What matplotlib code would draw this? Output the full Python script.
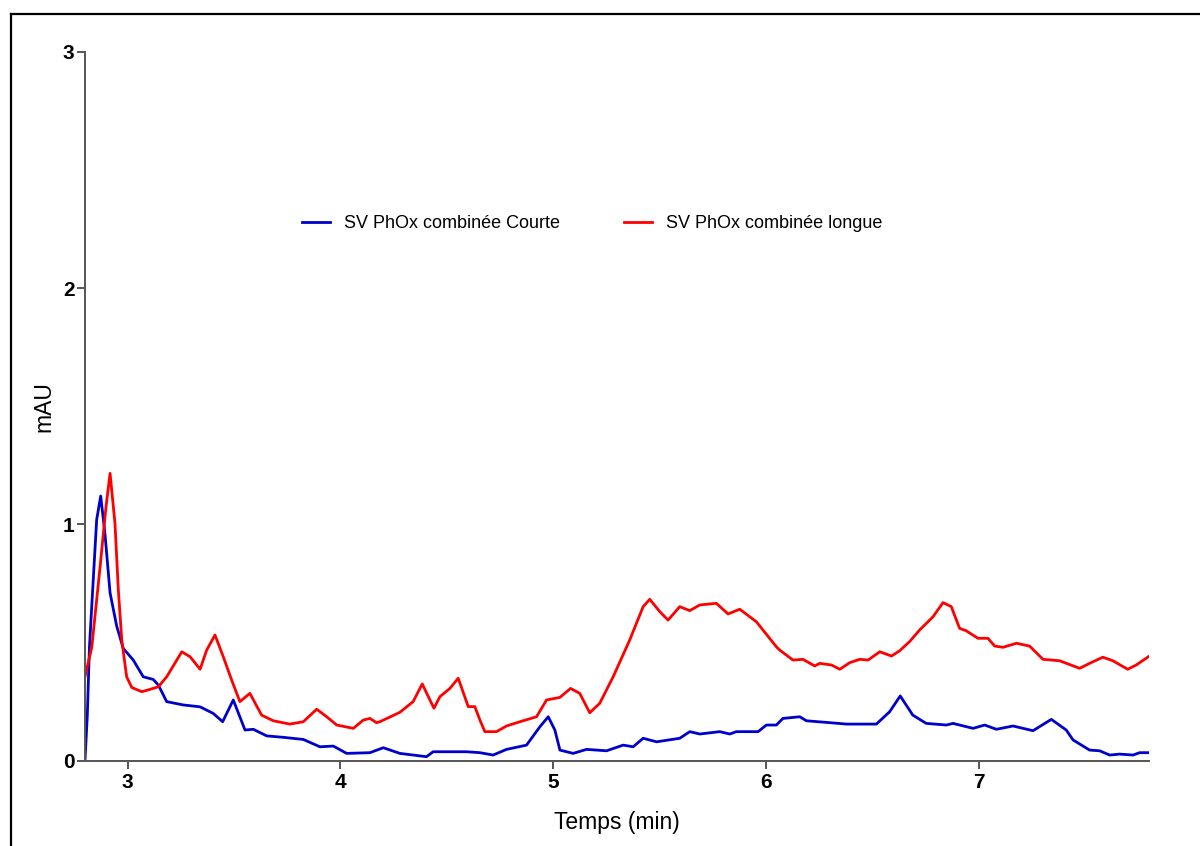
import matplotlib
matplotlib.use("Agg")
import matplotlib.pyplot as plt
from matplotlib.lines import Line2D

plt.rcParams['font.family'] = ['Liberation Sans', 'DejaVu Sans']

# Series: "SV PhOx combinée Courte" (blue)
t_courte = [2.800, 2.811, 2.821, 2.855, 2.874, 2.894, 2.918, 2.949, 2.980, 3.027,
            3.074, 3.121, 3.145, 3.184, 3.262, 3.341, 3.403, 3.447, 3.497, 3.552,
            3.591, 3.654, 3.732, 3.826, 3.904, 3.967, 4.030, 4.139, 4.202, 4.280,
            4.405, 4.436, 4.593, 4.656, 4.718, 4.781, 4.875, 4.938, 4.977, 5.008,
            5.032, 5.094, 5.157, 5.251, 5.329, 5.376, 5.423, 5.486, 5.595, 5.642,
            5.689, 5.783, 5.830, 5.861, 5.963, 6.002, 6.049, 6.080, 6.159, 6.190,
            6.300, 6.378, 6.519, 6.581, 6.631, 6.690, 6.753, 6.848, 6.879, 6.973,
            7.028, 7.083, 7.161, 7.255, 7.341, 7.411, 7.443, 7.521, 7.568, 7.615,
            7.662, 7.725, 7.756, 7.802]
y_courte = [0.0, 0.19, 0.48, 1.02, 1.12, 0.96, 0.71, 0.57, 0.475, 0.426,
            0.355, 0.344, 0.32, 0.25, 0.236, 0.228, 0.20, 0.165, 0.257, 0.13,
            0.133, 0.105, 0.099, 0.09, 0.059, 0.062, 0.031, 0.034, 0.055, 0.031,
            0.017, 0.038, 0.038, 0.034, 0.024, 0.048, 0.066, 0.144, 0.186, 0.13,
            0.045, 0.031, 0.048, 0.042, 0.066, 0.059, 0.095, 0.08, 0.095, 0.123,
            0.113, 0.123, 0.113, 0.123, 0.123, 0.151, 0.151, 0.179, 0.186, 0.169,
            0.161, 0.155, 0.155, 0.207, 0.274, 0.193, 0.158, 0.151, 0.158, 0.137,
            0.151, 0.133, 0.147, 0.127, 0.175, 0.13, 0.088, 0.045, 0.042, 0.024,
            0.028, 0.024, 0.034, 0.034]

# Series: "SV PhOx combinée longue" (red)
t_longue = [2.800, 2.832, 2.871, 2.899, 2.918, 2.941, 2.957, 2.973, 2.996, 3.020,
            3.067, 3.106, 3.145, 3.184, 3.255, 3.294, 3.341, 3.372, 3.411, 3.450,
            3.489, 3.528, 3.575, 3.630, 3.685, 3.763, 3.826, 3.889, 3.936, 3.983,
            4.061, 4.108, 4.139, 4.170, 4.186, 4.280, 4.342, 4.385, 4.421, 4.440,
            4.468, 4.515, 4.554, 4.601, 4.632, 4.656, 4.679, 4.734, 4.781, 4.844,
            4.922, 4.969, 5.032, 5.082, 5.125, 5.172, 5.219, 5.282, 5.360, 5.423,
            5.454, 5.501, 5.540, 5.595, 5.642, 5.689, 5.767, 5.822, 5.877, 5.955,
            6.049, 6.065, 6.127, 6.174, 6.229, 6.253, 6.308, 6.347, 6.394, 6.441,
            6.480, 6.535, 6.590, 6.628, 6.675, 6.722, 6.785, 6.832, 6.871, 6.910,
            6.941, 6.996, 7.043, 7.075, 7.114, 7.177, 7.239, 7.302, 7.380, 7.474,
            7.521, 7.583, 7.630, 7.700, 7.740, 7.802]
y_longue = [0.355, 0.48, 0.82, 1.075, 1.216, 1.005, 0.72, 0.51, 0.355, 0.31,
            0.292, 0.302, 0.313, 0.355, 0.461, 0.44, 0.387, 0.468, 0.532, 0.44,
            0.342, 0.25, 0.285, 0.193, 0.169, 0.155, 0.165, 0.218, 0.186, 0.151,
            0.137, 0.172, 0.179, 0.161, 0.165, 0.205, 0.25, 0.325, 0.257, 0.222,
            0.271, 0.306, 0.349, 0.229, 0.229, 0.172, 0.123, 0.123, 0.147, 0.165,
            0.186, 0.257, 0.268, 0.306, 0.285, 0.203, 0.243, 0.355, 0.511, 0.652,
            0.683, 0.631, 0.595, 0.652, 0.635, 0.659, 0.666, 0.621, 0.641, 0.588,
            0.482, 0.468, 0.426, 0.429, 0.401, 0.412, 0.405, 0.387, 0.415, 0.429,
            0.426, 0.461, 0.443, 0.465, 0.504, 0.553, 0.609, 0.669, 0.652, 0.56,
            0.55, 0.518, 0.518, 0.485, 0.48, 0.497, 0.485, 0.429, 0.423, 0.391,
            0.412, 0.438, 0.423, 0.387, 0.405, 0.443]

labels = ["SV PhOx combinée Courte", "SV PhOx combinée longue"]
x_ticks = [3, 4, 5, 6, 7]
y_ticks = [0, 1, 2, 3]

fig = plt.figure(figsize=(12, 8.46), dpi=100)
ax = fig.add_axes([0.0708, 0.1008, 0.8867, 0.8381])

ax.plot(t_courte, y_courte, color='#0000CC', lw=2.0, label=labels[0])
ax.plot(t_longue, y_longue, color='#FF0000', lw=2.0, label=labels[1])

ax.set_xlim(2.8, 7.8)
ax.set_ylim(0, 3)
ax.set_xticks(x_ticks)
ax.set_yticks(y_ticks)
ax.set_xticklabels([str(v) for v in x_ticks], fontweight='bold', fontsize=15)
ax.set_yticklabels([str(v) for v in y_ticks], fontweight='bold', fontsize=15)

for s in ['top', 'right']:
    ax.spines[s].set_visible(False)
for s in ['left', 'bottom']:
    ax.spines[s].set_color('#555555')
    ax.spines[s].set_linewidth(1.4)
ax.tick_params(axis='both', direction='out', length=5.5, width=1.4, color='#555555')
ax.tick_params(axis='y', pad=2)
ax.tick_params(axis='x', pad=3)

ax.set_xlabel("Temps (min)", fontsize=16.5, labelpad=14)
ax.set_ylabel("mAU", fontsize=16.5, labelpad=5)

fig.legend(loc='center left', bbox_to_anchor=(302 / 1200, 1 - 224 / 846),
           bbox_transform=fig.transFigure, ncol=2, frameon=False,
           fontsize=13, handlelength=1.55, handletextpad=0.8,
           columnspacing=3.5, borderpad=0, borderaxespad=0)

# figure border lines (left and top)
fig.add_artist(Line2D([11 / 1200, 11 / 1200], [0, 1 - 14 / 846],
                      transform=fig.transFigure, color='black', lw=1.6))
fig.add_artist(Line2D([11 / 1200, 1], [1 - 14 / 846, 1 - 14 / 846],
                      transform=fig.transFigure, color='black', lw=1.6))

fig.savefig("out.png", dpi=100)
